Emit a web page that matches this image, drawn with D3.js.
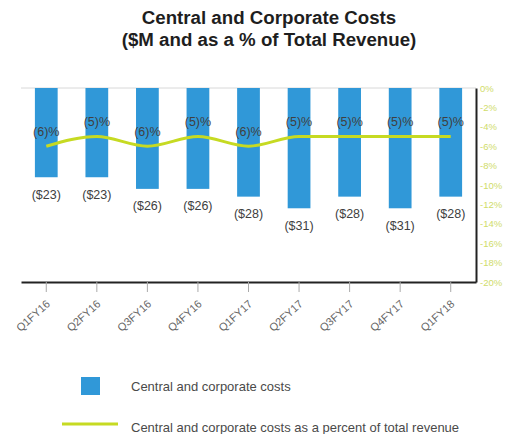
<!DOCTYPE html>
<html>
<head>
<meta charset="utf-8">
<script src="https://cdn.jsdelivr.net/npm/d3@7"></script>
<style>
  html, body { margin: 0; padding: 0; background: #fff; }
  svg { display: block; font-family: "Liberation Sans", Arial, sans-serif; }
</style>
</head>
<body>
<svg id="chart" width="508" height="434"></svg>
<script>
// Quarterly central and corporate costs ($M) and as a % of total revenue
const quarters = ["Q1FY16", "Q2FY16", "Q3FY16", "Q4FY16", "Q1FY17", "Q2FY17", "Q3FY17", "Q4FY17", "Q1FY18"];
const costs = [-23, -23, -26, -26, -28, -31, -28, -31, -28];
const pctOfRevenue = [-6, -5, -6, -5, -6, -5, -5, -5, -5];
const pctTicks = [0, -2, -4, -6, -8, -10, -12, -14, -16, -18, -20];

const titleLines = ["Central and Corporate Costs", "($M and as a % of Total Revenue)"];
const legendItems = ["Central and corporate costs", "Central and corporate costs as a percent of total revenue"];

const BAR_COLOR = "#3098d8";
const LINE_COLOR = "#c6da22";
const TICK_COLOR = "#d0dc6a";
const LABEL_COLOR = "#404040";

const svg = d3.select("#chart");
const plotLeft = 21, plotRight = 476, plotTop = 88, plotBottom = 282;

const x = d3.scaleBand().domain(quarters).range([plotLeft, plotRight])
  .paddingInner(0.55).paddingOuter(0.275);
const yCost = d3.scaleLinear().domain([0, -50]).range([plotTop, plotBottom]);
const yPct = d3.scaleLinear().domain([0, -20]).range([plotTop, plotBottom]);

// Title
svg.append("g").selectAll("text").data(titleLines).join("text")
  .attr("x", 269).attr("y", (d, i) => 24 + i * 22)
  .attr("text-anchor", "middle")
  .attr("font-size", 18.7).attr("font-weight", "bold").attr("fill", "#1e1e1e")
  .text(d => d);

// Top reference line at zero
svg.append("line")
  .attr("x1", plotLeft).attr("x2", plotRight)
  .attr("y1", yCost(0)).attr("y2", yCost(0))
  .attr("stroke", "#d8d8d8").attr("stroke-width", 1);

// Bars hanging down from zero
svg.append("g").selectAll("rect").data(costs).join("rect")
  .attr("x", (d, i) => x(quarters[i]))
  .attr("width", x.bandwidth())
  .attr("y", yCost(0))
  .attr("height", d => yCost(d) - yCost(0))
  .attr("fill", BAR_COLOR);

// Bar value labels
svg.append("g").selectAll("text").data(costs).join("text")
  .attr("x", (d, i) => x(quarters[i]) + x.bandwidth() / 2)
  .attr("y", d => yCost(d) + 17)
  .attr("dy", "0.35em")
  .attr("text-anchor", "middle")
  .attr("font-size", 12.5).attr("fill", LABEL_COLOR)
  .text(d => `($${Math.abs(d)})`);

// Percent-of-revenue line
const line = d3.line()
  .x((d, i) => x(quarters[i]) + x.bandwidth() / 2)
  .y(d => yPct(d))
  .curve(d3.curveMonotoneX);
svg.append("path").datum(pctOfRevenue)
  .attr("d", line)
  .attr("fill", "none")
  .attr("stroke", LINE_COLOR).attr("stroke-width", 3);

// Percent labels
svg.append("g").selectAll("text").data(pctOfRevenue).join("text")
  .attr("x", (d, i) => x(quarters[i]) + x.bandwidth() / 2)
  .attr("y", d => yPct(d) - 15)
  .attr("dy", "0.35em")
  .attr("text-anchor", "middle")
  .attr("font-size", 12.5).attr("fill", LABEL_COLOR)
  .text(d => `(${Math.abs(d)})%`);

// Bottom axis
const xAxis = svg.append("g")
  .attr("transform", `translate(0,${plotBottom})`)
  .call(d3.axisBottom(x).tickSize(10).tickSizeOuter(0));
xAxis.select(".domain").attr("stroke", "#222").attr("stroke-width", 2);
xAxis.selectAll(".tick line").attr("stroke", "#aaa");
xAxis.selectAll(".tick text")
  .attr("font-size", 11).attr("fill", "#666")
  .attr("text-anchor", "end")
  .attr("transform", "translate(2,20) rotate(-42)")
  .attr("dy", "0.35em").attr("y", 0).attr("x", 0);

// Right axis (percent)
const yAxis = svg.append("g")
  .attr("transform", `translate(${plotRight},0)`)
  .call(d3.axisRight(yPct).tickValues(pctTicks).tickSize(0).tickPadding(4)
    .tickFormat(d => d + "%"));
yAxis.select(".domain").attr("stroke", "#222").attr("stroke-width", 2);
yAxis.selectAll(".tick text").attr("font-size", 9.5).attr("fill", TICK_COLOR);

// Legend
const legend = svg.append("g");
legend.append("rect")
  .attr("x", 81).attr("y", 377).attr("width", 19).attr("height", 18)
  .attr("fill", BAR_COLOR);
legend.append("line")
  .attr("x1", 62).attr("x2", 118).attr("y1", 424).attr("y2", 424)
  .attr("stroke", LINE_COLOR).attr("stroke-width", 3);
legend.selectAll("text").data(legendItems).join("text")
  .attr("x", 131).attr("y", (d, i) => 386 + i * 41)
  .attr("dy", "0.35em")
  .attr("font-size", 13).attr("fill", "#4a4a4a")
  .text(d => d);
</script>
</body>
</html>
